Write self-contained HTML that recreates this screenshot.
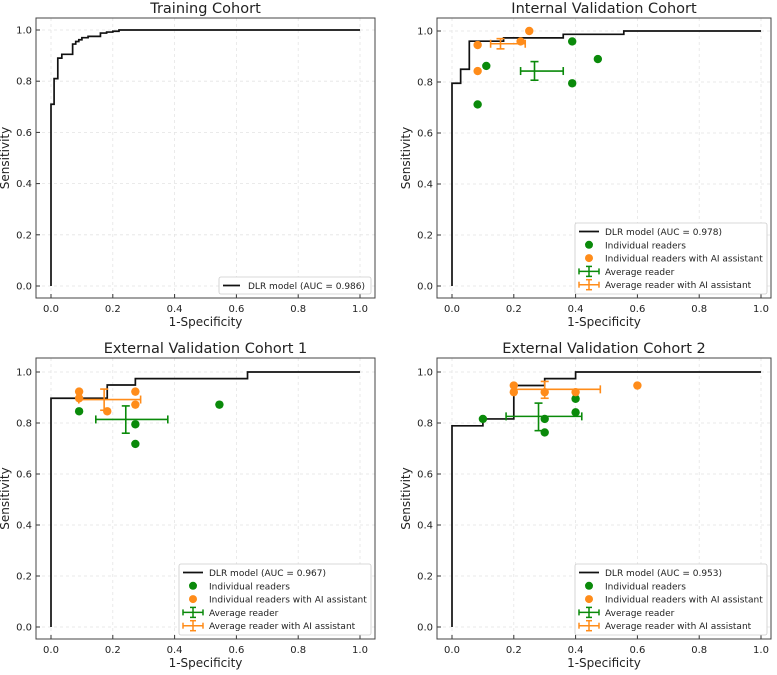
<!DOCTYPE html>
<html><head><meta charset="utf-8"><style>
body{margin:0;background:#fff;}
svg text{font-family:"DejaVu Sans","Liberation Sans",sans-serif;fill:#222;}
</style></head><body>
<svg id="fig" width="777" height="670" xmlns="http://www.w3.org/2000/svg"></svg>
<script>
// ---- data ----
const titles=["Training Cohort","Internal Validation Cohort","External Validation Cohort 1","External Validation Cohort 2"];
const aucs=["0.986","0.978","0.967","0.953"];
const rocFpr0=[0,0,0.01,0.01,0.022,0.022,0.035,0.035,0.07,0.07,0.08,0.08,0.09,0.09,0.1,0.1,0.12,0.12,0.16,0.16,0.18,0.18,0.2,0.2,0.22,0.22,1];
const rocTpr0=[0,0.71,0.71,0.81,0.81,0.89,0.89,0.905,0.905,0.945,0.945,0.955,0.955,0.962,0.962,0.97,0.97,0.975,0.975,0.988,0.988,0.992,0.992,0.995,0.995,1,1];
const rocFpr1=[0,0,0.028,0.028,0.056,0.056,0.167,0.167,0.36,0.36,0.556,0.556,1];
const rocTpr1=[0,0.795,0.795,0.85,0.85,0.96,0.96,0.973,0.973,0.987,0.987,1,1];
const rocFpr2=[0,0,0.182,0.182,0.273,0.273,0.636,0.636,1];
const rocTpr2=[0,0.897,0.897,0.949,0.949,0.974,0.974,1,1];
const rocFpr3=[0,0,0.1,0.1,0.2,0.2,0.3,0.3,0.4,0.4,1];
const rocTpr3=[0,0.789,0.789,0.816,0.816,0.947,0.947,0.974,0.974,1,1];
const readerX1=[0.083,0.111,0.389,0.389,0.472], readerY1=[0.712,0.863,0.959,0.795,0.89];
const aiX1=[0.083,0.083,0.222,0.25], aiY1=[0.945,0.843,0.959,1.0];
const readerX2=[0.091,0.273,0.273,0.545], readerY2=[0.846,0.795,0.718,0.872];
const aiX2=[0.091,0.091,0.182,0.273,0.273], aiY2=[0.923,0.897,0.846,0.923,0.872];
const readerX3=[0.1,0.3,0.3,0.4,0.4], readerY3=[0.816,0.816,0.763,0.842,0.895];
const aiX3=[0.2,0.2,0.3,0.4,0.6], aiY3=[0.947,0.921,0.921,0.921,0.947];
// avg: [x, y, xlo, xhi, ylo, yhi]
const avgReader1=[0.267,0.843,0.222,0.36,0.807,0.88], avgAi1=[0.157,0.95,0.125,0.237,0.93,0.97];
const avgReader2=[0.242,0.814,0.145,0.378,0.76,0.867], avgAi2=[0.172,0.892,0.09,0.29,0.85,0.933];
const avgReader3=[0.28,0.826,0.175,0.42,0.77,0.878], avgAi3=[0.3,0.932,0.2,0.48,0.897,0.963];
const ticks=[0,0.2,0.4,0.6,0.8,1.0];
const tickLabels=["0.0","0.2","0.4","0.6","0.8","1.0"];

const GREEN="#0a8a0a", ORANGE="#ff8c1a";
const NS="http://www.w3.org/2000/svg";
const svg=document.getElementById('fig');
function mk(tag,attrs,parent){const e=document.createElementNS(NS,tag);for(const k in attrs)e.setAttribute(k,attrs[k]);(parent||svg).appendChild(e);return e;}

const panels=[
 {bx:36,by:18,bw:339,bh:280,x0:51,x1:360,y0:286,y1:30},
 {bx:437,by:18,bw:334,bh:280,x0:452,x1:761,y0:286,y1:31},
 {bx:36,by:358,bw:339,bh:281,x0:51,x1:360,y0:627,y1:372},
 {bx:437,by:358,bw:334,bh:281,x0:452,x1:761,y0:627,y1:372}];
const rocs=[[rocFpr0,rocTpr0],[rocFpr1,rocTpr1],[rocFpr2,rocTpr2],[rocFpr3,rocTpr3]];
const readers=[null,[readerX1,readerY1,aiX1,aiY1,avgReader1,avgAi1],[readerX2,readerY2,aiX2,aiY2,avgReader2,avgAi2],[readerX3,readerY3,aiX3,aiY3,avgReader3,avgAi3]];

function errbar(g,sx,sy,a,col){
  mk('line',{x1:sx(a[2]),x2:sx(a[3]),y1:sy(a[1]),y2:sy(a[1]),stroke:col,'stroke-width':1.6},g);
  mk('line',{x1:sx(a[0]),x2:sx(a[0]),y1:sy(a[4]),y2:sy(a[5]),stroke:col,'stroke-width':1.6},g);
  [[a[2],a[1],'h'],[a[3],a[1],'h'],[a[0],a[4],'v'],[a[0],a[5],'v']].forEach(c=>{
    if(c[2]==='h')mk('line',{x1:sx(c[0]),x2:sx(c[0]),y1:sy(c[1])-4,y2:sy(c[1])+4,stroke:col,'stroke-width':1.6},g);
    else mk('line',{x1:sx(c[0])-4,x2:sx(c[0])+4,y1:sy(c[1]),y2:sy(c[1]),stroke:col,'stroke-width':1.6},g);
  });
}

panels.forEach((p,i)=>{
  const g=mk('g',{});
  
  
  const sx=v=>p.x0+v*(p.x1-p.x0), sy=v=>p.y0+v*(p.y1-p.y0);
  ticks.forEach(t=>{
    mk('line',{x1:sx(t),x2:sx(t),y1:p.by,y2:p.by+p.bh,stroke:'#e4e4e4','stroke-width':0.8,'stroke-dasharray':'3,3'},g);
    mk('line',{x1:p.bx,x2:p.bx+p.bw,y1:sy(t),y2:sy(t),stroke:'#e4e4e4','stroke-width':0.8,'stroke-dasharray':'3,3'},g);
  });
  ticks.forEach((t,k)=>{
    mk('line',{x1:sx(t),x2:sx(t),y1:p.by+p.bh,y2:p.by+p.bh-4,stroke:'#333'},g);
    mk('line',{x1:p.bx,x2:p.bx+4,y1:sy(t),y2:sy(t),stroke:'#333'},g);
    const tx=mk('text',{x:sx(t),y:p.by+p.bh+14,'text-anchor':'middle','font-size':10},g);tx.textContent=tickLabels[k];
    
    
    const ty=mk('text',{x:p.bx-4,y:sy(t)+3.5,'text-anchor':'end','font-size':10},g);ty.textContent=tickLabels[k];
    
    
  });
  mk('rect',{x:p.bx,y:p.by,width:p.bw,height:p.bh,fill:'none',stroke:'#444','stroke-width':1},g);
  const tt=mk('text',{x:p.bx+p.bw/2,y:p.by-5,'text-anchor':'middle','font-size':14.5},g);tt.textContent=titles[i];
  
  
  const xl=mk('text',{x:p.bx+p.bw/2,y:p.by+p.bh+28,'text-anchor':'middle','font-size':12},g);xl.textContent='1-Specificity';
  
  
  const yl=mk('text',{x:0,y:0,'text-anchor':'middle','font-size':12,transform:`translate(${p.bx-27},${p.by+p.bh/2}) rotate(-90)`},g);yl.textContent='Sensitivity';
  
  
  const [fx,ty2]=rocs[i];
  const pts=fx.map((v,k)=>sx(v)+','+sy(ty2[k])).join(' ');
  const pl=mk('polyline',{points:pts,fill:'none',stroke:'#111','stroke-width':1.7},g);
  
  
  const r=readers[i];
  if(r){
    r[0].forEach((v,k)=>{const c=mk('circle',{cx:sx(v),cy:sy(r[1][k]),r:4.2,fill:GREEN},g);
      
      });
    r[2].forEach((v,k)=>{const c=mk('circle',{cx:sx(v),cy:sy(r[3][k]),r:4.2,fill:ORANGE},g);
      
      });
    errbar(g,sx,sy,r[4],GREEN);
    errbar(g,sx,sy,r[5],ORANGE);
  }
  const lg=mk('g',{},g);
  
  
  if(!r){
    mk('rect',{x:219,y:277,width:152,height:17,fill:'#fff',stroke:'#ccc','stroke-width':0.8,rx:2},lg);
    mk('line',{x1:223,x2:240,y1:285.5,y2:285.5,stroke:'#111','stroke-width':1.7},lg);
    const t=mk('text',{x:248,y:289,'font-size':9},lg);t.textContent='DLR model (AUC = '+aucs[i]+')';
  } else {
    const lx=p.bx+p.bw-196, ly=p.by+p.bh-75;
    mk('rect',{x:lx,y:ly,width:192,height:71,fill:'#fff',stroke:'#ccc','stroke-width':0.8,rx:2},lg);
    const labels=['DLR model (AUC = '+aucs[i]+')','Individual readers','Individual readers with AI assistant','Average reader','Average reader with AI assistant'];
    labels.forEach((s,k)=>{
      const yy=ly+8.5+k*13.3, cx=lx+14;
      if(k===0)mk('line',{x1:lx+4,x2:lx+24,y1:yy,y2:yy,stroke:'#111','stroke-width':1.7},lg);
      else if(k<3)mk('circle',{cx:cx,cy:yy,r:4,fill:k===1?GREEN:ORANGE},lg);
      else{const col=k===3?GREEN:ORANGE;
        mk('line',{x1:lx+4,x2:lx+24,y1:yy,y2:yy,stroke:col,'stroke-width':1.5},lg);
        mk('line',{x1:cx,x2:cx,y1:yy-5,y2:yy+5,stroke:col,'stroke-width':1.5},lg);
        mk('line',{x1:cx-3,x2:cx+3,y1:yy-5,y2:yy-5,stroke:col,'stroke-width':1.5},lg);
        mk('line',{x1:cx-3,x2:cx+3,y1:yy+5,y2:yy+5,stroke:col,'stroke-width':1.5},lg);
        mk('line',{x1:lx+4,x2:lx+4,y1:yy-3,y2:yy+3,stroke:col,'stroke-width':1.5},lg);
        mk('line',{x1:lx+24,x2:lx+24,y1:yy-3,y2:yy+3,stroke:col,'stroke-width':1.5},lg);}
      const t=mk('text',{x:lx+30,y:yy+3.5,'font-size':9},lg);t.textContent=s;
    });
  }
});
</script>
</body></html>
